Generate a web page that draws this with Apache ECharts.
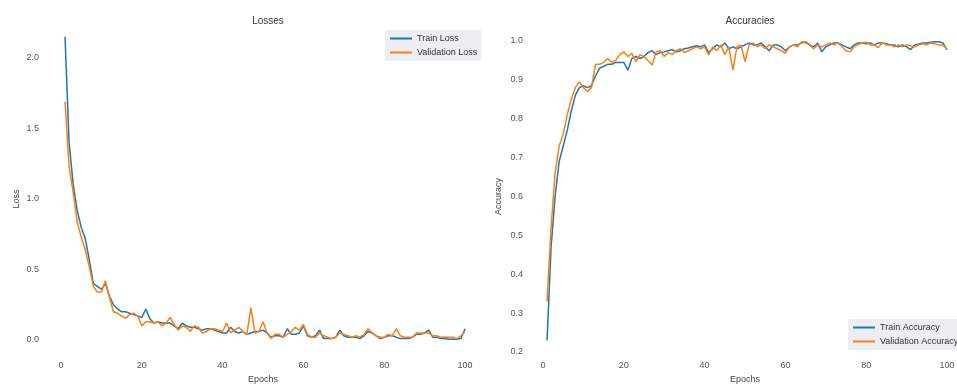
<!DOCTYPE html>
<html>
<head>
<meta charset="utf-8">
<script src="https://cdn.jsdelivr.net/npm/echarts@6/dist/echarts.min.js"></script>
<style>
html,body{margin:0;padding:0;background:#fff;}
#c{width:957px;height:385px;}
</style>
</head>
<body>
<div id="c"></div>
<script>
const epochs = Array.from({length: 100}, (_, i) => i + 1);

const trainLoss = [2.15,1.40,1.11,0.92,0.80,0.72,0.57,0.40,0.38,0.36,
0.40,0.31,0.25,0.22,0.20,0.20,0.19,0.18,0.17,0.16,
0.22,0.15,0.12,0.13,0.12,0.12,0.12,0.10,0.08,0.12,
0.10,0.09,0.09,0.08,0.07,0.08,0.08,0.07,0.06,0.05,
0.05,0.09,0.06,0.05,0.06,0.04,0.05,0.06,0.06,0.07,
0.05,0.02,0.03,0.03,0.02,0.08,0.04,0.04,0.05,0.10,
0.03,0.02,0.03,0.07,0.01,0.01,0.01,0.02,0.07,0.03,
0.02,0.02,0.02,0.01,0.03,0.06,0.05,0.03,0.01,0.02,
0.03,0.03,0.02,0.01,0.01,0.01,0.02,0.04,0.04,0.05,
0.07,0.02,0.02,0.01,0.01,0.005,0.005,0.005,0.01,0.08];

const valLoss = [1.69,1.23,1.05,0.84,0.73,0.64,0.52,0.38,0.34,0.34,
0.42,0.30,0.20,0.19,0.17,0.155,0.18,0.19,0.17,0.10,
0.13,0.13,0.12,0.13,0.10,0.12,0.16,0.11,0.07,0.10,
0.09,0.06,0.10,0.09,0.05,0.06,0.08,0.08,0.07,0.06,
0.12,0.05,0.07,0.09,0.06,0.04,0.23,0.05,0.06,0.13,
0.05,0.01,0.04,0.04,0.02,0.04,0.06,0.09,0.07,0.11,
0.04,0.02,0.02,0.05,0.03,0.02,0.01,0.02,0.05,0.04,
0.03,0.02,0.03,0.02,0.04,0.08,0.05,0.03,0.02,0.02,
0.04,0.03,0.08,0.03,0.02,0.02,0.02,0.05,0.05,0.05,
0.05,0.03,0.03,0.02,0.02,0.02,0.02,0.01,0.03,0.06];

const trainAcc = [0.23,0.47,0.60,0.69,0.73,0.77,0.82,0.86,0.88,0.885,
0.88,0.885,0.91,0.93,0.935,0.94,0.94,0.945,0.945,0.945,
0.925,0.955,0.96,0.955,0.96,0.97,0.975,0.965,0.97,0.972,
0.975,0.978,0.972,0.975,0.98,0.982,0.985,0.988,0.985,0.99,
0.97,0.98,0.99,0.985,0.995,0.98,0.985,0.98,0.985,0.99,
0.995,0.99,0.99,0.995,0.985,0.975,0.99,0.99,0.985,0.975,
0.985,0.99,0.99,0.995,0.998,0.99,0.985,0.995,0.972,0.985,
0.99,0.995,0.995,0.99,0.985,0.98,0.99,0.995,0.995,0.993,
0.995,0.99,0.995,0.995,0.993,0.99,0.99,0.985,0.99,0.985,
0.978,0.99,0.992,0.995,0.995,0.997,0.998,0.998,0.995,0.977];

const valAcc = [0.33,0.52,0.66,0.73,0.76,0.81,0.85,0.88,0.895,0.88,
0.87,0.88,0.94,0.94,0.945,0.955,0.945,0.95,0.965,0.972,
0.96,0.968,0.947,0.965,0.96,0.95,0.938,0.972,0.975,0.96,
0.97,0.965,0.975,0.98,0.97,0.975,0.98,0.985,0.98,0.985,
0.964,0.985,0.975,0.99,0.965,0.985,0.925,0.985,0.99,0.947,
0.99,0.995,0.985,0.99,0.98,0.99,0.985,0.98,0.975,0.968,
0.985,0.99,0.985,0.998,0.995,0.99,0.98,0.99,0.985,0.99,
0.995,0.99,0.995,0.985,0.975,0.972,0.985,0.99,0.995,0.997,
0.99,0.99,0.983,0.995,0.99,0.99,0.985,0.99,0.985,0.99,
0.988,0.985,0.99,0.993,0.99,0.995,0.993,0.99,0.99,0.98];

const lossTicks = {min: 0, max: 2.0, interval: 0.5};
const accTicks = {min: 0.2, max: 1.0, interval: 0.1};
const epochTicks = {min: 0, max: 100, interval: 20};

const BLUE = '#1f77b4', ORANGE = '#ff7f0e';
const FONT = 'Liberation Sans, Arial, sans-serif';
const pair = (xs, ys) => xs.map((x, i) => [x, ys[i]]);

const chart = echarts.init(document.getElementById('c'), null, {renderer: 'canvas'});

const hidden = {axisLine: {show: false}, axisTick: {show: false}, splitLine: {show: false}};
const lbl = {color: '#555', fontSize: 9, fontFamily: FONT};
const nm = {color: '#444', fontSize: 9, fontFamily: FONT};

function lineSeries(name, data, color, xi) {
  return {
    type: 'line', name: name, xAxisIndex: xi, yAxisIndex: xi,
    data: data, showSymbol: false, symbol: 'none', clip: false,
    lineStyle: {color: color, width: 1.5}, itemStyle: {color: color},
    animation: false
  };
}

chart.setOption({
  backgroundColor: '#ffffff',
  animation: false,
  title: [
    {text: 'Losses', left: 263, top: 11, textAlign: 'center',
     textStyle: {fontSize: 10, fontWeight: 'normal', color: '#333', fontFamily: FONT}},
    {text: 'Accuracies', left: 745, top: 11, textAlign: 'center',
     textStyle: {fontSize: 10, fontWeight: 'normal', color: '#333', fontFamily: FONT}}
  ],
  grid: [
    {left: 61, top: 58, width: 404, height: 282, outerBoundsMode: 'none', containLabel: false},
    {left: 543, top: 41, width: 404, height: 311, outerBoundsMode: 'none', containLabel: false}
  ],
  legend: [
    {data: ['Train Loss', 'Validation Loss'], orient: 'vertical', left: 385, top: 30,
     backgroundColor: 'rgba(234,234,242,0.85)', borderRadius: 2, padding: [4, 4, 4, 5],
     itemGap: 5, itemWidth: 22, itemHeight: 2, icon: 'rect',
     textStyle: {fontSize: 9, color: '#333', fontFamily: FONT}},
    {data: ['Train Accuracy', 'Validation Accuracy'], orient: 'vertical', left: 848, top: 319,
     backgroundColor: 'rgba(234,234,242,0.85)', borderRadius: 2, padding: [4, 4, 4, 5],
     itemGap: 5, itemWidth: 22, itemHeight: 2, icon: 'rect',
     textStyle: {fontSize: 9, color: '#333', fontFamily: FONT}}
  ],
  xAxis: [
    Object.assign({type: 'value', gridIndex: 0, min: epochTicks.min, max: epochTicks.max, interval: epochTicks.interval,
      name: 'Epochs', nameLocation: 'middle', nameGap: 35, nameTextStyle: nm,
      axisLabel: Object.assign({margin: 21}, lbl)}, hidden),
    Object.assign({type: 'value', gridIndex: 1, min: epochTicks.min, max: epochTicks.max, interval: epochTicks.interval,
      name: 'Epochs', nameLocation: 'middle', nameGap: 23, nameTextStyle: nm,
      axisLabel: Object.assign({margin: 9}, lbl)}, hidden)
  ],
  yAxis: [
    Object.assign({type: 'value', gridIndex: 0, min: lossTicks.min, max: lossTicks.max, interval: lossTicks.interval,
      name: 'Loss', nameLocation: 'middle', nameGap: 40, nameTextStyle: nm,
      axisLabel: Object.assign({margin: 22, formatter: v => v.toFixed(1)}, lbl)}, hidden),
    Object.assign({type: 'value', gridIndex: 1, min: accTicks.min, max: accTicks.max, interval: accTicks.interval,
      name: 'Accuracy', nameLocation: 'middle', nameGap: 40, nameTextStyle: nm,
      axisLabel: Object.assign({margin: 20, formatter: v => v.toFixed(1)}, lbl)}, hidden)
  ],
  series: [
    lineSeries('Train Loss', pair(epochs, trainLoss), BLUE, 0),
    lineSeries('Validation Loss', pair(epochs, valLoss), ORANGE, 0),
    lineSeries('Train Accuracy', pair(epochs, trainAcc), BLUE, 1),
    lineSeries('Validation Accuracy', pair(epochs, valAcc), ORANGE, 1)
  ]
});
</script>
</body>
</html>
